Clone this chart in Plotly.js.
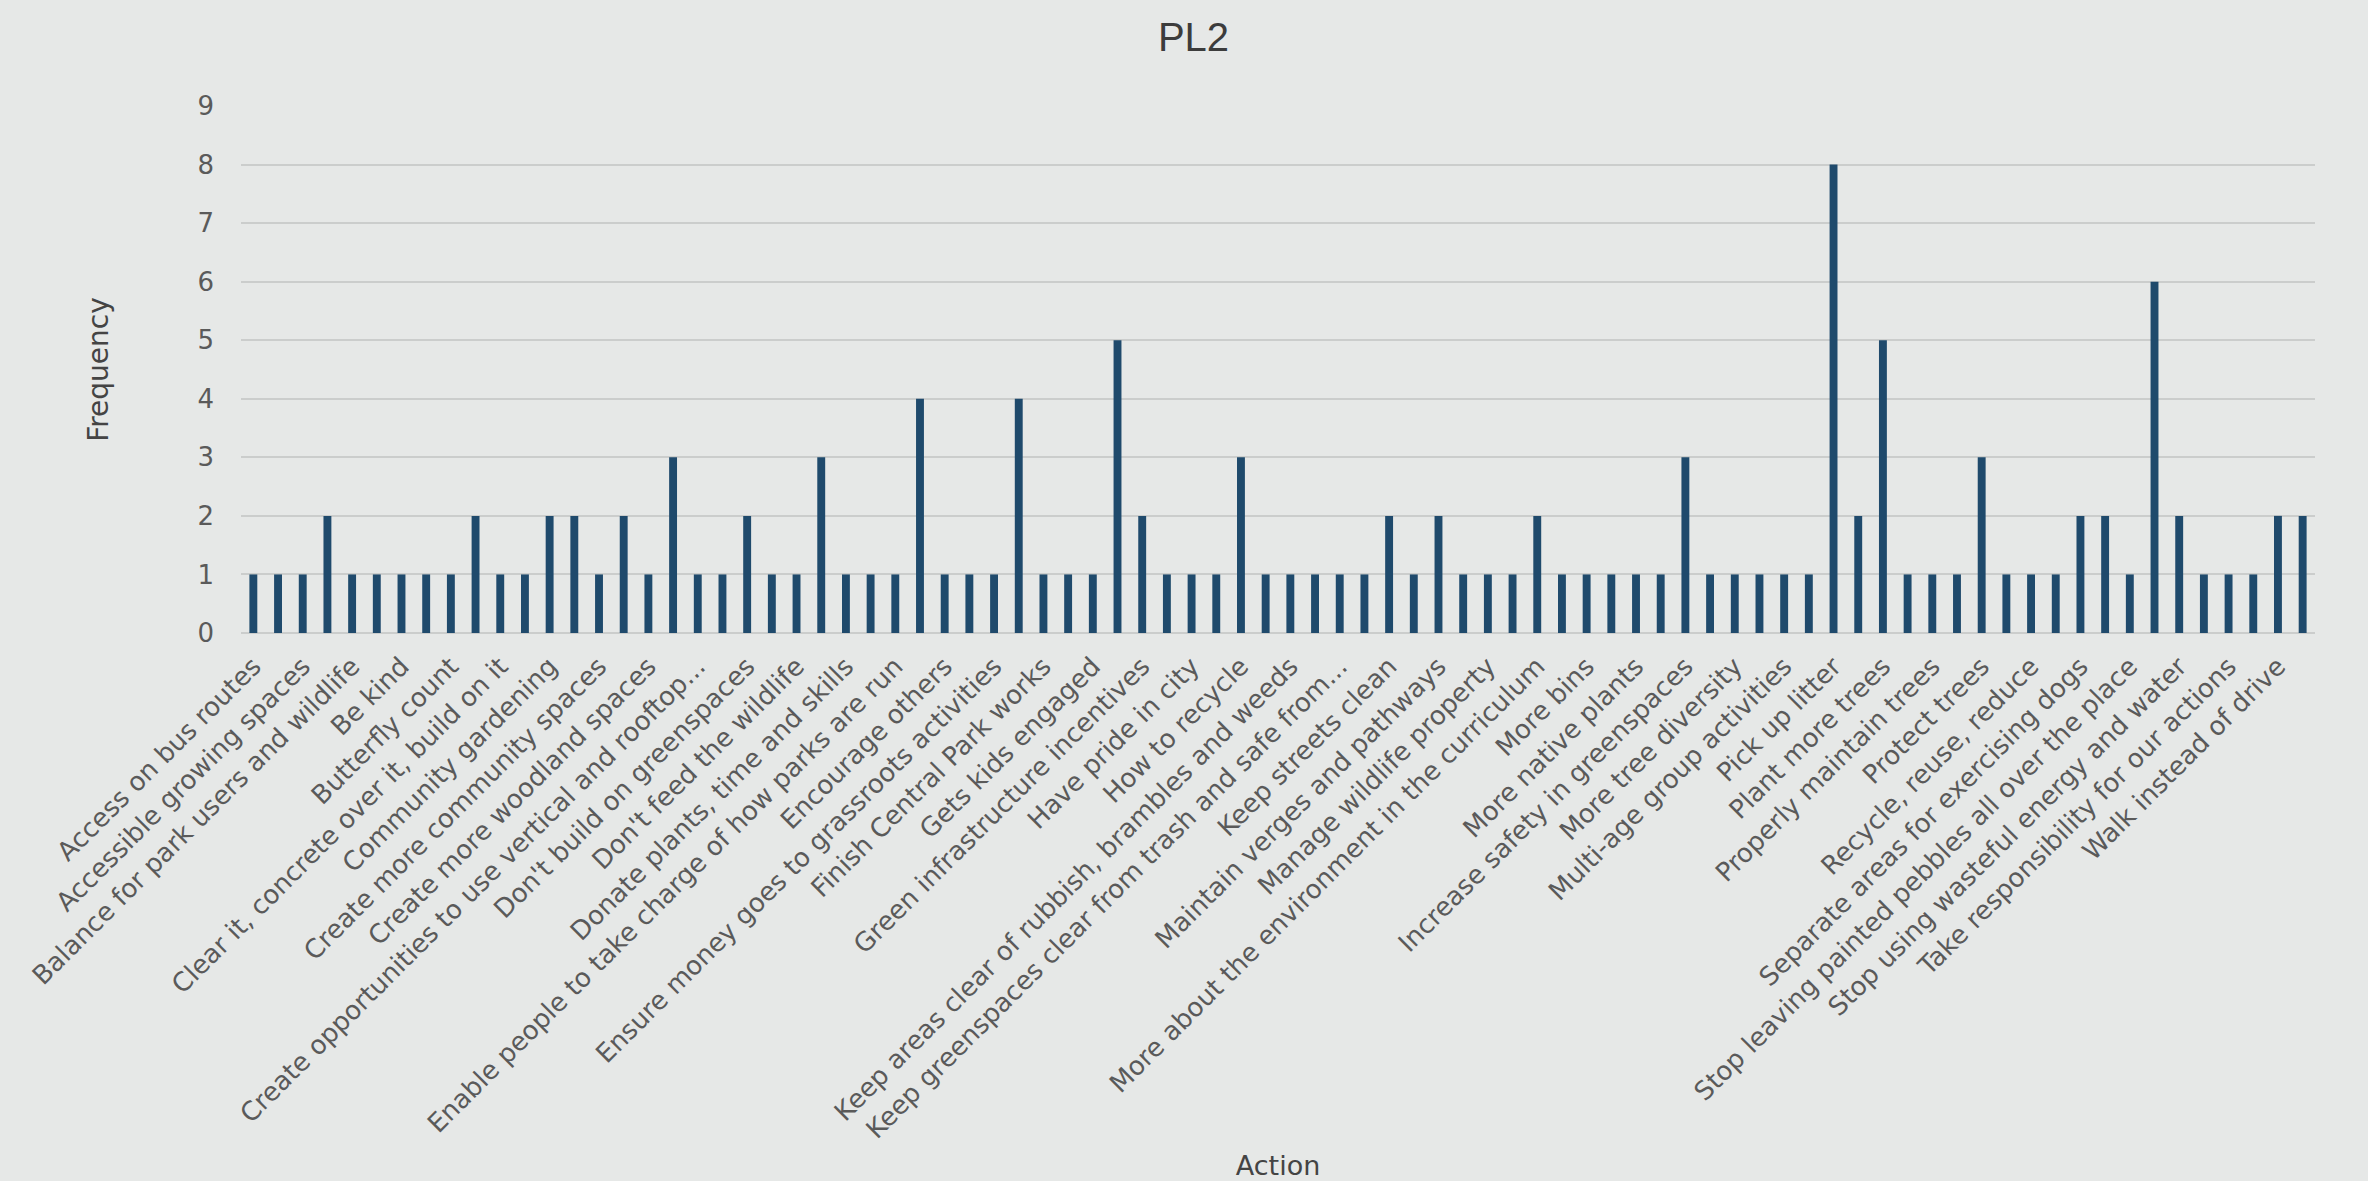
<!DOCTYPE html>
<html>
<head>
<meta charset="utf-8">
<script src="https://cdn.plot.ly/plotly-3.0.1.min.js"></script>
<style>
  html, body { margin: 0; padding: 0; background: #e6e8e7; }
  #chart { width: 2368px; height: 1181px; }
</style>
</head>
<body>
<div id="chart"></div>
<script>
// Tick labels (Excel shows every second category label)
const labels = [
  "Access on bus routes",
  "Accessible growing spaces",
  "Balance for park users and wildlife",
  "Be kind",
  "Butterfly count",
  "Clear it, concrete over it, build on it",
  "Community gardening",
  "Create more community spaces",
  "Create more woodland spaces",
  "Create opportunities to use vertical and rooftop...",
  "Don't build on greenspaces",
  "Don't feed the wildlife",
  "Donate plants, time and skills",
  "Enable people to take charge of how parks are run",
  "Encourage others",
  "Ensure money goes to grassroots activities",
  "Finish Central Park works",
  "Gets kids engaged",
  "Green infrastructure incentives",
  "Have pride in city",
  "How to recycle",
  "Keep areas clear of rubbish, brambles and weeds",
  "Keep greenspaces clear from trash and safe from...",
  "Keep streets clean",
  "Maintain verges and pathways",
  "Manage wildlife property",
  "More about the environment in the curriculum",
  "More bins",
  "More native plants",
  "Increase safety in greenspaces",
  "More tree diversity",
  "Multi-age group activities",
  "Pick up litter",
  "Plant more trees",
  "Properly maintain trees",
  "Protect trees",
  "Recycle, reuse, reduce",
  "Separate areas for exercising dogs",
  "Stop leaving painted pebbles all over the place",
  "Stop using wasteful energy and water",
  "Take responsibility for our actions",
  "Walk instead of drive"
];

// Frequency of each of the 84 actions, in chart order
const frequency = [
  1,1,1,2,1,1,1,1,1,2,1,1,2,2,1,2,1,3,1,1,2,1,1,
  3,1,1,1,4,1,1,1,4,1,1,1,5,2,1,1,1,3,1,1,1,1,1,2,1,2,1,1,1,2,1,
  1,1,1,1,3,1,1,1,1,1,8,2,5,1,1,1,3,1,1,1,2,2,1,6,2,1,1,1,2,2
];

const yTicks = [0,1,2,3,4,5,6,7,8,9];

const positions = frequency.map((_, i) => i);
const labelPositions = labels.map((_, i) => i * 2);

const trace = {
  type: 'bar',
  x: positions,
  y: frequency,
  marker: { color: '#1f4a6c' },
  hoverinfo: 'y'
};

const tickFont = { family: 'DejaVu Sans', size: 26, color: '#5a5a5a' };

const layout = {
  width: 2368,
  height: 1181,
  paper_bgcolor: '#e6e8e7',
  plot_bgcolor: '#e6e8e7',
  margin: { l: 241, r: 53, t: 106, b: 548, autoexpand: false },
  bargap: 0.68,
  showlegend: false,
  title: {
    text: 'PL2',
    font: { family: 'Liberation Sans', size: 40, color: '#3c3c3c' },
    x: 0.504, xref: 'container', xanchor: 'center',
    y: 0.969, yref: 'container', yanchor: 'middle'
  },
  xaxis: {
    range: [-0.5, frequency.length - 0.5],
    tickmode: 'array',
    tickvals: labelPositions,
    ticktext: labels,
    tickangle: -45,
    tickfont: tickFont,
    ticklabelstandoff: 12,
    showgrid: false,
    zeroline: false,
    showline: false,
    ticks: '',
    automargin: false,
    title: {
      text: 'Action',
      font: { family: 'DejaVu Sans', size: 27, color: '#444444' },
      standoff: 22
    }
  },
  yaxis: {
    range: [0, 9],
    tickmode: 'array',
    tickvals: yTicks,
    tickfont: tickFont,
    ticklabelstandoff: 26,
    showgrid: true,
    gridcolor: '#cbcdcc',
    gridwidth: 2,
    zeroline: true,
    zerolinecolor: '#cbcdcc',
    zerolinewidth: 2,
    showline: false,
    ticks: '',
    automargin: false,
    title: {
      text: 'Frequency',
      font: { family: 'DejaVu Sans', size: 28, color: '#444444' },
      standoff: 80
    }
  }
};

Plotly.newPlot('chart', [trace], layout, { displayModeBar: false, staticPlot: true });
</script>
</body>
</html>
